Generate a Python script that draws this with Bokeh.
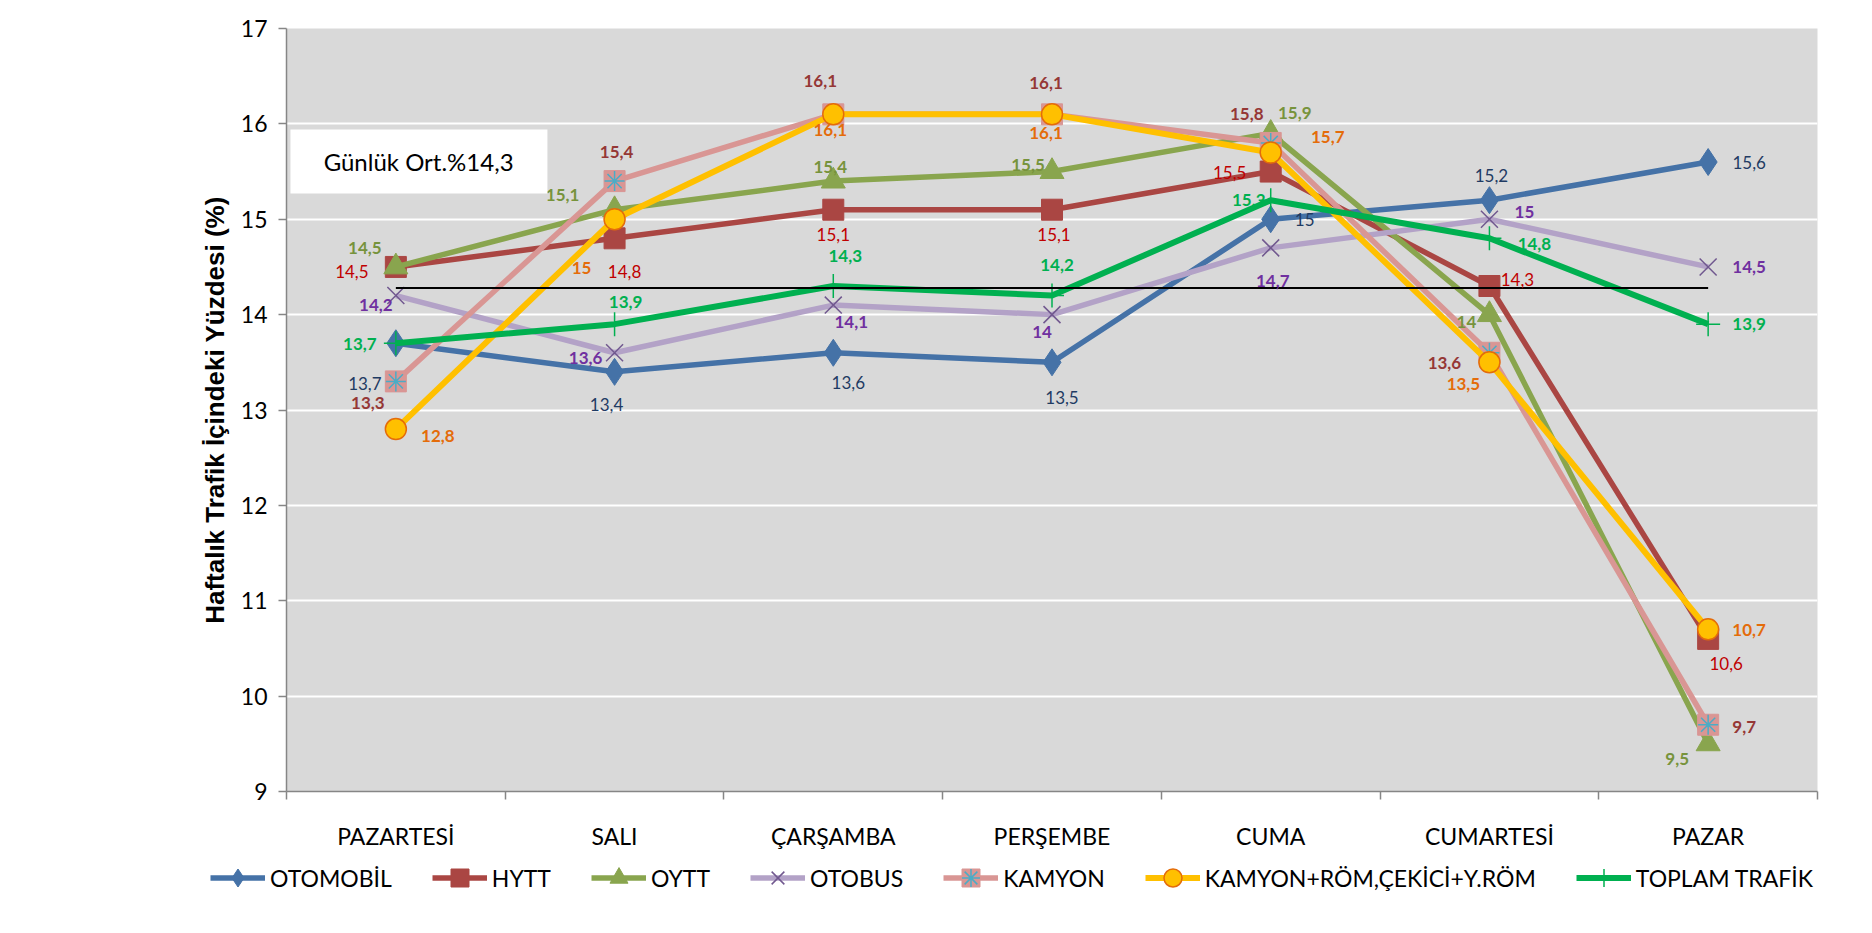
from bokeh.plotting import figure
from bokeh.layouts import column
from bokeh.models import (ColumnDataSource, FixedTicker, Legend, LegendItem,
                          BoxAnnotation, Label, Range1d)
from bokeh.embed import file_html
from bokeh.resources import INLINE
from bokeh.core.properties import value

# ---------------- data ----------------
days = ["PAZARTESİ", "SALI", "ÇARŞAMBA", "PERŞEMBE", "CUMA", "CUMARTESİ", "PAZAR"]
otomobil = [13.7, 13.4, 13.6, 13.5, 15.0, 15.2, 15.6]
hytt = [14.5, 14.8, 15.1, 15.1, 15.5, 14.3, 10.6]
oytt = [14.5, 15.1, 15.4, 15.5, 15.9, 14.0, 9.5]
otobus = [14.2, 13.6, 14.1, 14.0, 14.7, 15.0, 14.5]
kamyon = [13.3, 15.4, 16.1, 16.1, 15.8, 13.6, 9.7]
kamyon_rom = [12.8, 15.0, 16.1, 16.1, 15.7, 13.5, 10.7]
toplam = [13.7, 13.9, 14.3, 14.2, 15.2, 14.8, 13.9]
series_names = ["OTOMOBİL", "HYTT", "OYTT", "OTOBUS", "KAMYON",
                "KAMYON+RÖM,ÇEKİCİ+Y.RÖM", "TOPLAM TRAFİK"]
daily_avg = 14.28
avg_text = "Günlük Ort.%14,3"
y_ticks = [9, 10, 11, 12, 13, 14, 15, 16, 17]
y_title = "Haftalık Trafik İçindeki Yüzdesi (%)"

# ---------------- label placement (pixel offsets, styling only) ----------------
label_offsets = {
    "OTOMOBİL": [(-31, 40), (-8, 33), (15, 30), (10, 35), (34, 0), (2, -25), (41, 0)],
    "HYTT": [(-44, 5), (10, 33), (0, 25), (2, 25), (-41, 1), (28, -7), (18, 25)],
    "OYTT": [(-31, -19), (-52, -15), (-3, -14), (-24, -7), (24, -20), (-23, 7), (-31, 15)],
    "OTOBUS": [(-20, 9), (-29, 5), (18, 17), (-10, 17), (2, 33), (35, -7), (41, 0)],
    "KAMYON": [(-28, 22), (2, -29), (-13, -33), (-6, -31), (-24, -29), (-45, 10), (36, 2)],
    "KAMYON+RÖM,ÇEKİCİ+Y.RÖM": [(42, 7), (-33, 49), (-3, 16), (-6, 19), (57, -15), (-26, 22), (41, 1)],
    "TOPLAM TRAFİK": [(-36, 1), (11, -22), (12, -30), (5, -31), (-22, 0), (45, 6), (41, 0)],
}

FONT = "Lato"
xs = [i + 0.5 for i in range(len(days))]

p = figure(frame_width=1531, frame_height=763,
           x_range=Range1d(0, len(days)), y_range=Range1d(9, 17),
           output_backend="svg", toolbar_location=None,
           min_border_left=286, min_border_right=55, min_border_top=28, min_border_bottom=60)
p.background_fill_color = "#D9D9D9"
p.border_fill_color = "white"
p.outline_line_color = None

# grid
p.xgrid.visible = False
p.ygrid.ticker = FixedTicker(ticks=y_ticks)
p.ygrid.grid_line_color = "white"
p.ygrid.grid_line_width = 2

# y axis
p.yaxis.ticker = FixedTicker(ticks=y_ticks)
p.yaxis.axis_line_color = "#868686"
p.yaxis.axis_line_width = 1.5
p.yaxis.major_tick_line_color = "#868686"
p.yaxis.major_tick_line_width = 1.5
p.yaxis.major_tick_out = 8
p.yaxis.major_tick_in = 0
p.yaxis.minor_tick_line_color = None
p.yaxis.major_label_text_font = FONT
p.yaxis.major_label_text_font_size = "23px"
p.yaxis.major_label_text_color = "black"
p.yaxis.major_label_standoff = 11
p.yaxis.axis_label = y_title
p.yaxis.axis_label_text_font = "Liberation Sans"
p.yaxis.axis_label_text_font_style = "bold"
p.yaxis.axis_label_text_font_size = "26px"
p.yaxis.axis_label_text_color = "black"
p.yaxis.axis_label_standoff = 8

# x axis: labels at category centres, ticks at boundaries
p.xaxis.ticker = FixedTicker(ticks=xs, minor_ticks=list(range(len(days) + 1)))
p.xaxis.major_label_overrides = {x: d for x, d in zip(xs, days)}
p.xaxis.axis_line_color = "#868686"
p.xaxis.axis_line_width = 1.5
p.xaxis.major_tick_line_color = None
p.xaxis.major_tick_out = 0
p.xaxis.major_tick_in = 0
p.xaxis.minor_tick_line_color = "#868686"
p.xaxis.minor_tick_line_width = 1.5
p.xaxis.minor_tick_out = 8
p.xaxis.minor_tick_in = 0
p.xaxis.major_label_text_font = FONT
p.xaxis.major_label_text_font_size = "23px"
p.xaxis.major_label_text_color = "black"
p.xaxis.major_label_standoff = 22

# average box text
p.add_layout(BoxAnnotation(left=0.018, right=1.193, bottom=15.27, top=15.94,
                           fill_color="white", fill_alpha=1.0, line_color=None))
p.add_layout(Label(x=0.604, y=15.604, text=avg_text, text_align="center",
                   text_baseline="middle", text_font=FONT, text_font_size="24px",
                   text_color="black"))

styles = [
    # name, values, line colour, line width, markers, label colour, bold
    ("OTOMOBİL", otomobil, "#4572A7", 5.5,
     [dict(marker="diamond", size=27, fill_color="#4572A7", line_color="#4572A7")], "#1F3B63", "normal"),
    ("HYTT", hytt, "#AA4643", 5.5,
     [dict(marker="square", size=21, fill_color="#AA4643", line_color="#AA4643")], "#C00000", "normal"),
    ("OYTT", oytt, "#89A54E", 5.5,
     [dict(marker="triangle", size=24, fill_color="#89A54E", line_color="#89A54E")], "#77933C", "bold"),
    ("OTOBUS", otobus, "#B3A2C7", 5.5,
     [dict(marker="x", size=24, fill_color=None, line_color="#71588F", line_width=1.5)], "#7030A0", "bold"),
    ("KAMYON", kamyon, "#D99694", 5.5,
     [dict(marker="square", size=21, fill_color="#D99694", line_color="#D99694"),
      dict(marker="asterisk", size=20, fill_color=None, line_color="#4BACC6", line_width=1.5)], "#953735", "bold"),
    ("KAMYON+RÖM,ÇEKİCİ+Y.RÖM", kamyon_rom, "#FFC000", 6,
     [dict(marker="circle", size=21, fill_color="#FFC000", line_color="#E46C0A", line_width=1.5)], "#E46C0A", "bold"),
    ("TOPLAM TRAFİK", toplam, "#00B050", 6,
     [dict(marker="cross", size=24, fill_color=None, line_color="#00B050", line_width=1.5)], "#00B050", "bold"),
]

# legend strip (separate figure directly below the chart); its own ranges keep
# the series themselves out of view, only the legend swatches show
lg = figure(frame_width=1872, frame_height=50, x_range=Range1d(0, 1), y_range=Range1d(0, 1),
            output_backend="svg", toolbar_location=None,
            x_axis_location=None, y_axis_location=None,
            min_border_left=0, min_border_right=0, min_border_top=0, min_border_bottom=0)
lg.xgrid.visible = False
lg.ygrid.visible = False
lg.outline_line_color = None
lg.background_fill_color = "white"
lg.border_fill_color = "white"

items = []
label_specs = []
for name, vals, lc, lw, markers, tc, fs in styles:
    src = ColumnDataSource(dict(x=xs, y=vals))
    p.line("x", "y", source=src, line_color=lc, line_width=lw)
    for m in markers:
        p.scatter("x", "y", source=src, **m)
    rs = [lg.line("x", "y", source=src, line_color=lc, line_width=lw)]
    for m in markers:
        rs.append(lg.scatter("x", "y", source=src, **m))
    items.append(LegendItem(label=name, renderers=rs))
    label_specs.append((name, vals, tc, fs))

# daily average reference line
p.line([xs[0], xs[-1]], [daily_avg, daily_avg], line_color="black", line_width=2)

# data labels on top
for name, vals, tc, fs in label_specs:
    offs = label_offsets[name]
    lsrc = ColumnDataSource(dict(
        x=xs, y=vals,
        t=[("%g" % v).replace(".", ",") for v in vals],
        dx=[o[0] for o in offs], dy=[o[1] for o in offs]))
    p.text("x", "y", text="t", x_offset="dx", y_offset="dy", source=lsrc,
           text_font=value(FONT), text_font_size="17px", text_font_style=fs,
           text_color=tc, text_align="center", text_baseline="middle")

legend = Legend(items=items, orientation="horizontal", location=(210, 2),
                label_text_font=FONT, label_text_font_size="23px", label_text_color="black",
                glyph_width=55, glyph_height=45, spacing=40, label_standoff=5,
                border_line_color=None, background_fill_alpha=0, padding=0, margin=0)
lg.add_layout(legend, "center")

layout = column(p, lg, spacing=0)
open("out.html", "w").write(file_html(layout, INLINE))
